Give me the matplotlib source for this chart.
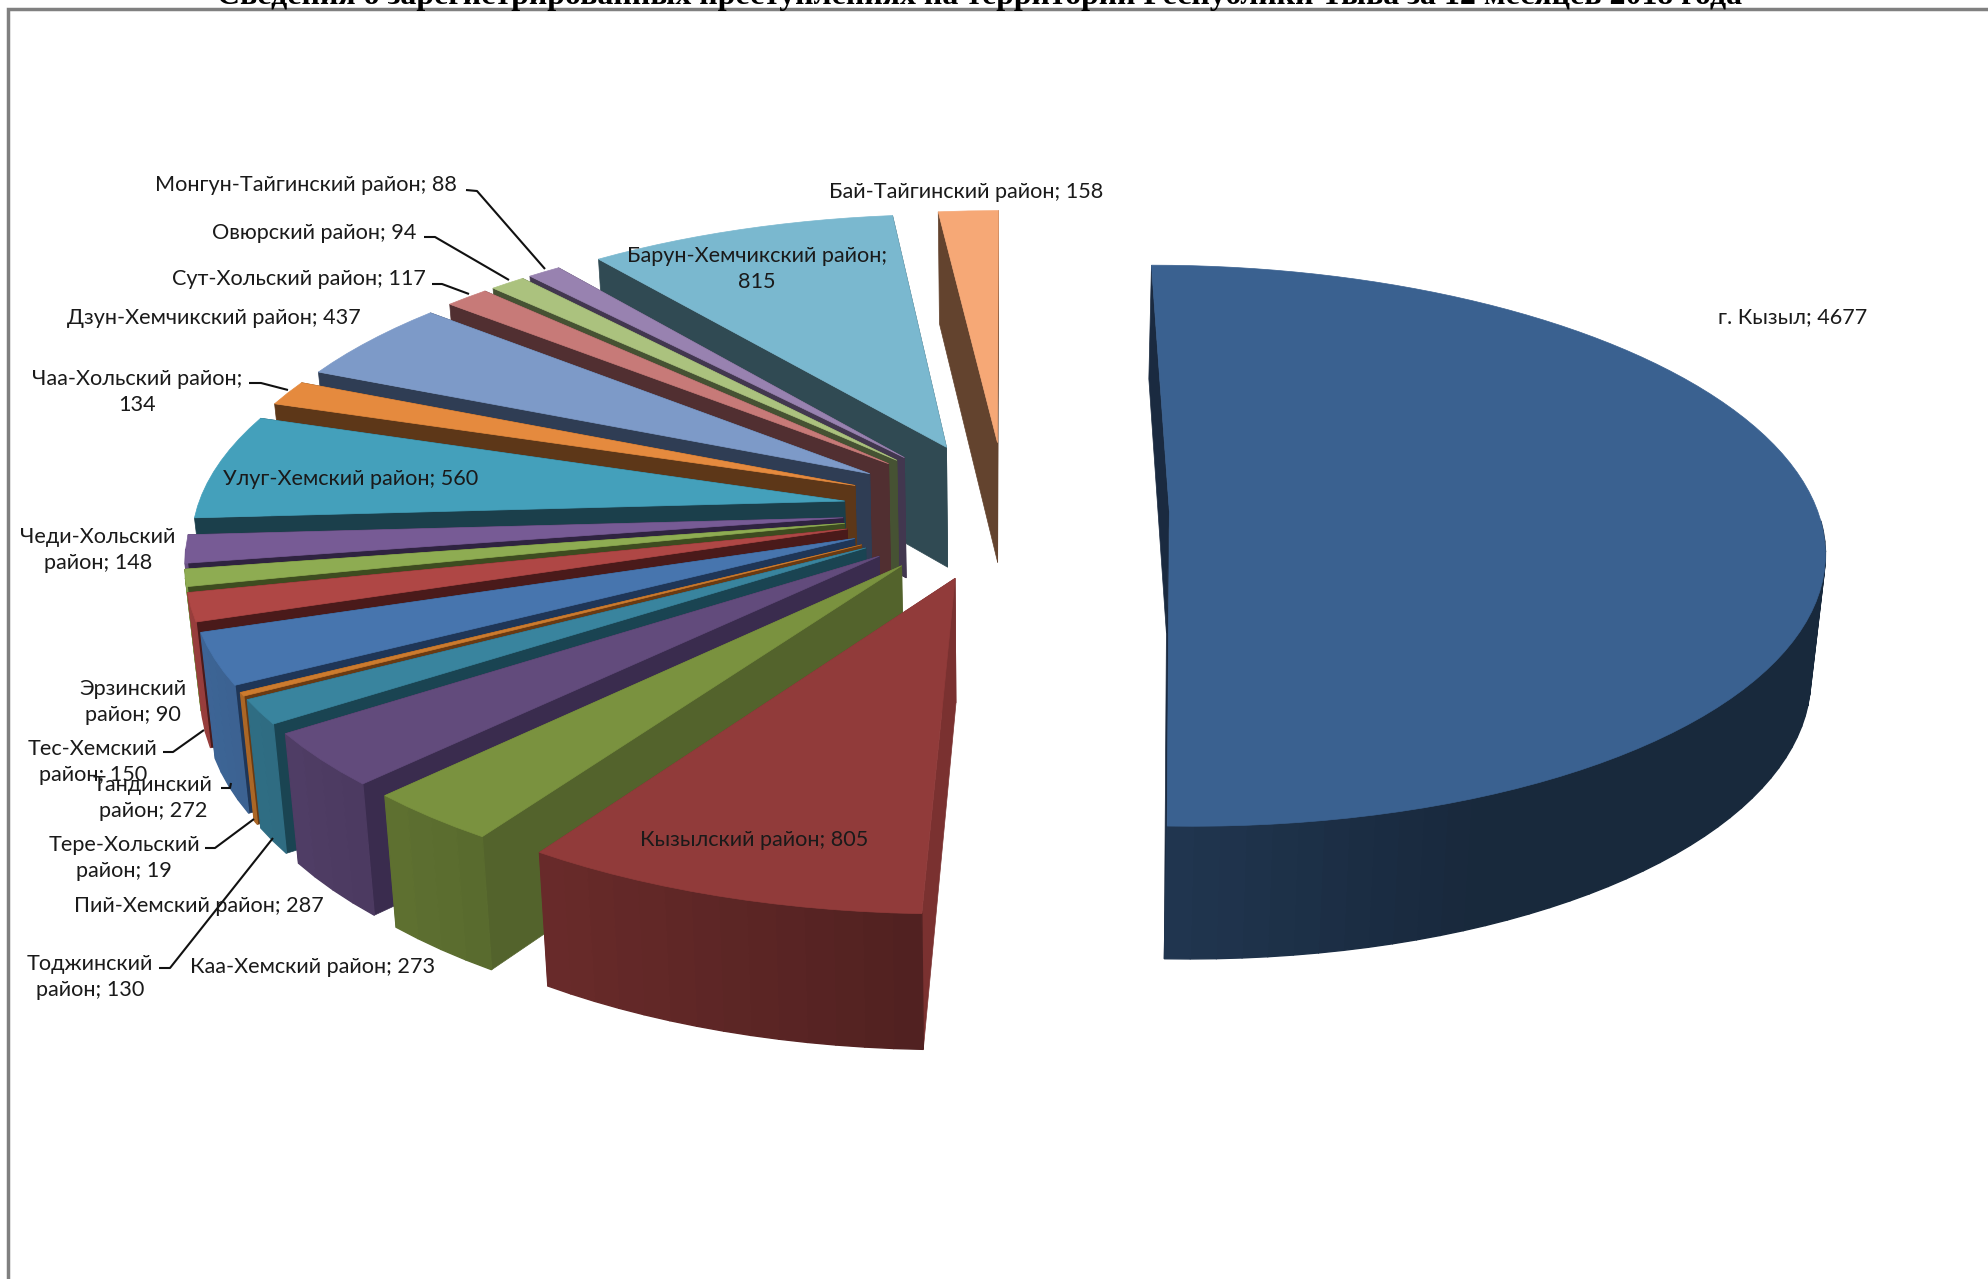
import numpy as np
import matplotlib
matplotlib.use("Agg")
import matplotlib.pyplot as plt
from matplotlib.colors import to_rgb

# values, clockwise from 12 o'clock
districts = ["г. Кызыл", "Кызылский район", "Каа-Хемский район", "Пий-Хемский район",
             "Тоджинский район", "Тере-Хольский район", "Тандинский район", "Тес-Хемский район",
             "Эрзинский район", "Чеди-Хольский район", "Улуг-Хемский район", "Чаа-Хольский район",
             "Дзун-Хемчикский район", "Сут-Хольский район", "Овюрский район",
             "Монгун-Тайгинский район", "Барун-Хемчикский район", "Бай-Тайгинский район"]
crimes = [4677, 805, 273, 287, 130, 19, 272, 150, 90, 148, 560, 134, 437, 117, 94, 88, 815, 158]

top_colors = ["#3A6190", "#913B3A", "#7A923F", "#624B7C", "#39849E", "#CC7B2E", "#4775AE", "#AF4745",
              "#8EAC52", "#775B95", "#44A0BB", "#E58A3E", "#7D9AC8", "#C77A78", "#ABC27E", "#9882B0",
              "#7AB8CF", "#F6A876"]
wall_colors = ["#1A2A40", "#7A3130", "#53632C", "#3A2C4E", "#1A4452", "#6A3A12", "#1F3657", "#4A1A1A",
               "#3E4C20", "#2F2340", "#1B3F4B", "#5D3718", "#2F3D54", "#512F31", "#465233", "#42374F",
               "#304A53", "#63432E"]

TITLE = "Сведения о зарегистрированных преступлениях на территории Республики Тыва за 12 месяцев 2018 года"

# label text, centre in pixels of the picture
labels = [
    ("Монгун-Тайгинский район; 88", 306, 185), ("Овюрский район; 94", 314, 233),
    ("Сут-Хольский район; 117", 299, 279), ("Дзун-Хемчикский район; 437", 214, 318),
    ("Чаа-Хольский район;\n134", 137, 392), ("Улуг-Хемский район; 560", 351, 479),
    ("Чеди-Хольский\nрайон; 148", 98, 550), ("Эрзинский\nрайон; 90", 133, 702),
    ("Тес-Хемский\nрайон; 150", 93, 762), ("Тандинский\nрайон; 272", 153, 798),
    ("Тере-Хольский\nрайон; 19", 124, 858), ("Пий-Хемский район; 287", 199, 906),
    ("Тоджинский\nрайон; 130", 90, 977), ("Каа-Хемский район; 273", 313, 967),
    ("Кызылский район; 805", 754, 840), ("Барун-Хемчикский район;\n815", 757, 269),
    ("Бай-Тайгинский район; 158", 966, 192), ("г. Кызыл; 4677", 1793, 317),
]
leaders = [
    [(466, 190), (477, 191), (545, 269)], [(424, 237), (435, 237), (509, 280)],
    [(432, 284), (442, 284), (469, 294)], [(249, 383), (261, 383), (288, 390)],
    [(163, 752), (173, 752), (204, 730)], [(221, 788), (230, 788), (231, 783)],
    [(205, 848), (215, 848), (254, 819)], [(159, 968), (170, 968), (273, 838)],
]

# camera of the 3d pie, fitted on the picture
XV, YC = 1006, 510
SCALE_X, SCALE_Y = 648, 276
PERSP = 0.123
EXPLODE = 0.252
SHRINK = 0.018


def project(u, v):
    w = 1.0 / (1.0 + PERSP * v)
    return XV + SCALE_X * u * w, YC - SCALE_Y * v * w


def project_low(u, v):
    w = 1.0 / (1.0 + PERSP * v)
    x, y = project(u, v)
    return XV + (x - XV) * (1 - SHRINK), y + 46 + 76 * w


def side_shade(color, u):
    f = max(0.42, 0.55 - 0.33 * u)
    return tuple(c * f for c in to_rgb(color))


plt.rcParams["font.family"] = ["Lato", "Noto Sans", "DejaVu Sans"]
fig = plt.figure(figsize=(19.88, 12.79), dpi=100)
ax = fig.add_axes([0, 0, 1, 1])
ax.set_xlim(0, 1988)
ax.set_ylim(1279, 0)
ax.axis("off")

total = sum(crimes)
edges = np.cumsum([0] + crimes) / total * 2 * np.pi
mids = (edges[:-1] + edges[1:]) / 2

# far slices first, the near ones paint over them
for i in np.argsort(-np.cos(mids)):
    t1, t2 = edges[i], edges[i + 1]
    u0 = EXPLODE * np.sin(mids[i])
    v0 = EXPLODE * np.cos(mids[i])
    th = np.linspace(t1, t2, max(3, int(np.degrees(t2 - t1) / 2)))
    us = u0 + np.sin(th)
    vs = v0 + np.cos(th)
    tx, ty = project(us, vs)
    bx, by = project_low(us, vs)
    ax0, ay0 = project(u0, v0)
    lx0, ly0 = project_low(u0, v0)
    col, wall = top_colors[i], wall_colors[i]

    # end wall, then start wall
    ax.fill([ax0, tx[-1], bx[-1], lx0], [ay0, ty[-1], by[-1], ly0], color=wall, lw=0.5)
    ax.fill([ax0, tx[0], bx[0], lx0], [ay0, ty[0], by[0], ly0], color=wall, lw=0.5)
    # rim, cut in strips for the shading; the back of the rim stays hidden
    for k in range(len(th) - 1):
        c, s = np.cos(th[k]), np.sin(th[k])
        if c > 0 or (c > -0.12 and s < 0):
            continue
        ax.fill([tx[k], tx[k + 1], bx[k + 1], bx[k]], [ty[k], ty[k + 1], by[k + 1], by[k]],
                color=side_shade(col, s), lw=1.0)
    ax.fill(np.r_[ax0, tx], np.r_[ay0, ty], color=col, lw=0.5)

for pts in leaders:
    xs, ys = zip(*pts)
    ax.plot(xs, ys, color="#111111", lw=1.5, solid_capstyle="butt")

for txt, x, y in labels:
    ax.text(x, y, txt, ha="center", va="center", fontsize=15.6, color="#1a1a1a", linespacing=1.35)

ax.text(980, 4, TITLE, ha="center", va="baseline", fontsize=22.97, fontweight="bold",
        family=["Liberation Serif"], color="black", clip_on=True)

# frame of the original chart area
ax.plot([8, 8, 1988], [1279, 9, 9], color="#808080", lw=2.5, solid_joinstyle="miter")

fig.savefig("out.png", dpi=100, facecolor="white")
